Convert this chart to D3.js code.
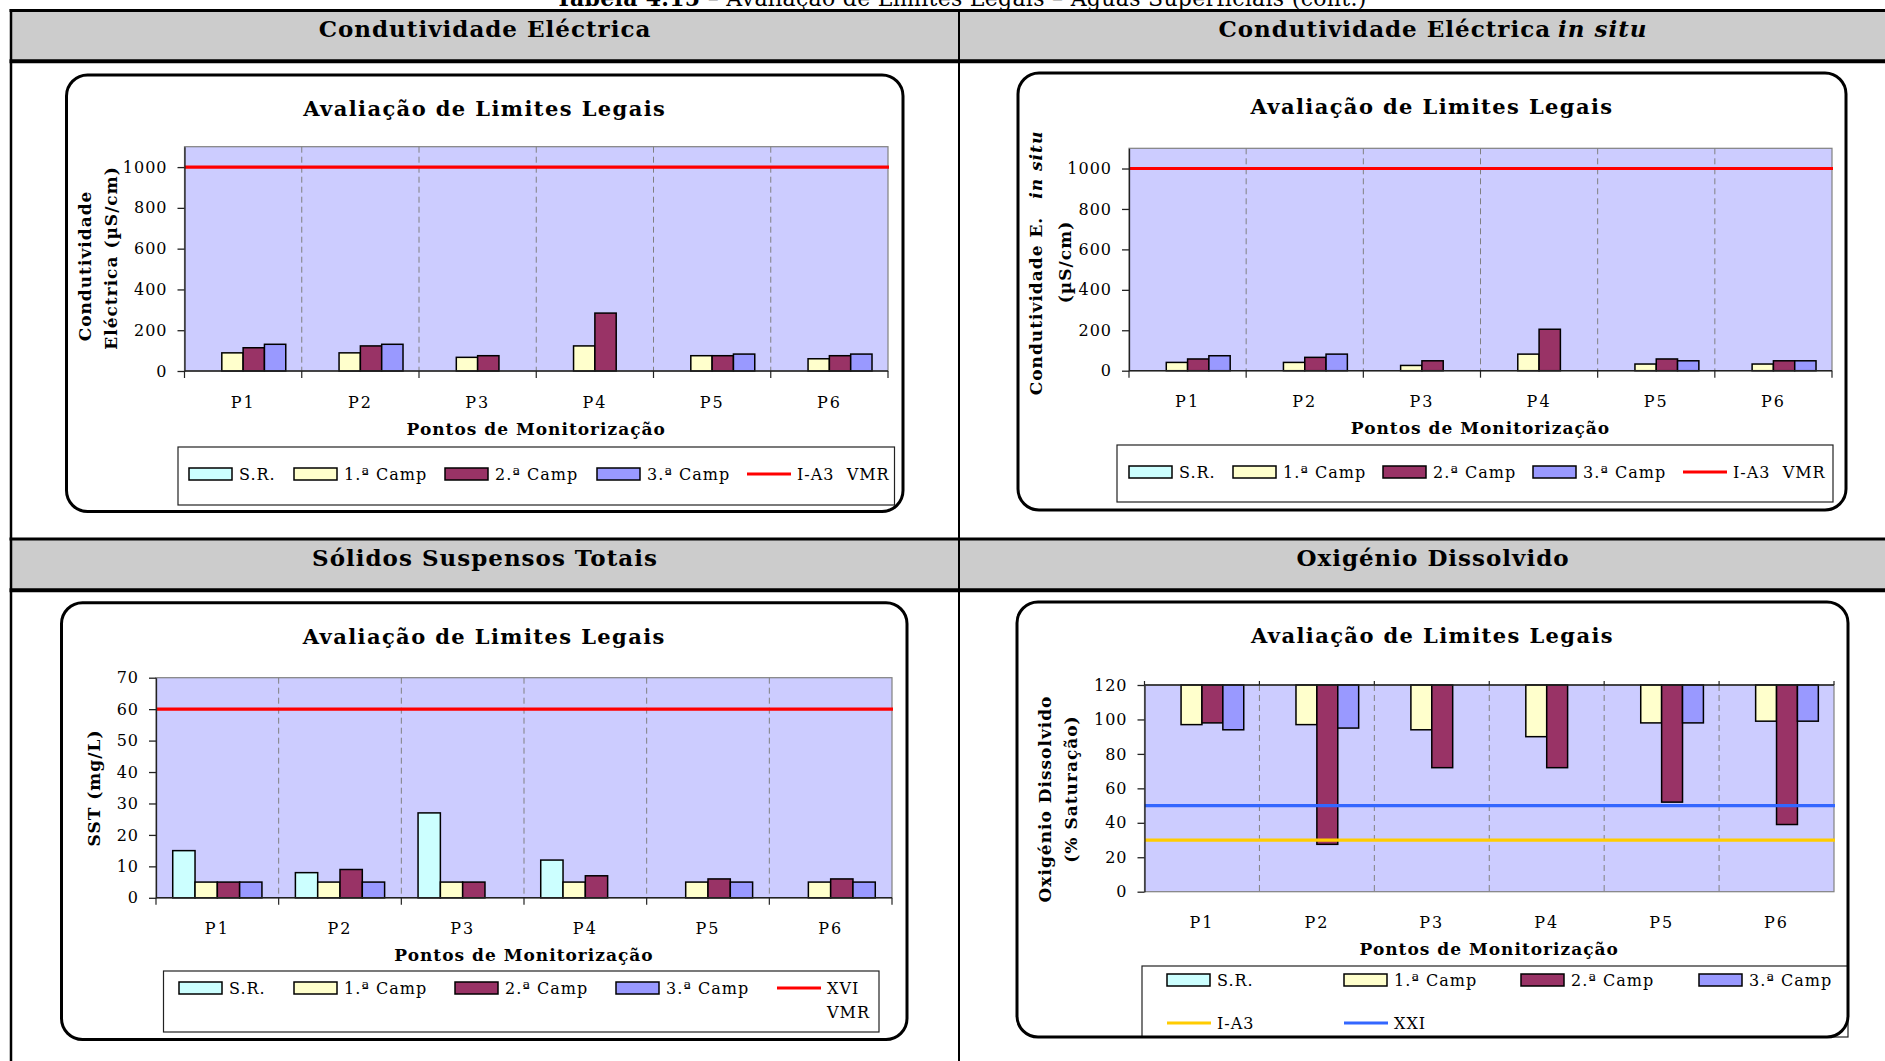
<!DOCTYPE html>
<html><head><meta charset="utf-8">
<script src="https://cdn.jsdelivr.net/npm/d3@7"></script>
<style>
body{margin:0;background:#fff;}
svg{display:block;}
text{font-family:"DejaVu Serif",serif;fill:#000;}
</style>
</head><body>
<svg id="c" width="1885" height="1061"></svg>
<script>
// ---------------- DATA ----------------
const categories = ["P1", "P2", "P3", "P4", "P5", "P6"];
const seriesNames = ["S.R.", "1.ª Camp", "2.ª Camp", "3.ª Camp"];

// Condutividade Eléctrica (µS/cm)
const ceSR = [null, null, null, null, null, null];
const ce1 = [89, 89, 67, 123, 75, 60];
const ce2 = [114, 123, 75, 284, 75, 75];
const ce3 = [131, 131, null, null, 83, 83];
const ceTicks = [0, 200, 400, 600, 800, 1000];
const ceMax = 1100;
const ceLimit = 1000;
const ceLimitName = "I-A3  VMR";

// Condutividade Eléctrica in situ (µS/cm)
const ceisSR = [null, null, null, null, null, null];
const ceis1 = [41, 41, 26, 82, 33, 33];
const ceis2 = [58, 66, 49, 205, 58, 49];
const ceis3 = [74, 82, null, null, 49, 49];
const ceisLimit = 1000;
const ceisLimitName = "I-A3  VMR";

// Sólidos Suspensos Totais (mg/L)
const sstSR = [15, 8, 27, 12, null, null];
const sst1 = [5, 5, 5, 5, 5, 5];
const sst2 = [5, 9, 5, 7, 6, 6];
const sst3 = [5, 5, null, null, 5, 5];
const sstTicks = [0, 10, 20, 30, 40, 50, 60, 70];
const sstMax = 70;
const sstLimit = 60;
const sstLimitName = "XVI\nVMR";

// Oxigénio Dissolvido (% Saturação)
const odSR = [null, null, null, null, null, null];
const od1 = [97, 97, 94, 90, 98, 99];
const od2 = [98, 27.5, 72, 72, 52, 39];
const od3 = [94, 95, null, null, 98, 99];
const odTicks = [0, 20, 40, 60, 80, 100, 120];
const odMax = 120;
const odLimitIA3 = 30;
const odLimitXXI = 50;
const odLimitNames = ["I-A3", "XXI"];

const headerTitles = ["Condutividade Eléctrica", "Condutividade Eléctrica", "Sólidos Suspensos Totais", "Oxigénio Dissolvido"];
const chartTitle = "Avaliação de Limites Legais";
const xTitle = "Pontos de Monitorização";
const tableCaptionBold = "Tabela 4.15";
const tableCaptionRest = " – Avaliação de Limites Legais – Águas Superficiais (cont.)";

// ---------------- STYLE ----------------
const seriesColors = ["#ccffff", "#ffffcc", "#993366", "#9999ff"];
const plotBg = "#ccccff";

const svg = d3.select("#c");

// ---------------- TABLE ----------------
svg.append("text").attr("x", 961).attr("y", 5.5).attr("text-anchor", "middle")
  .attr("font-size", 22).attr("letter-spacing", 0.3).style("white-space", "pre")
  .call(t => { t.append("tspan").attr("font-weight", "bold").text(tableCaptionBold); t.append("tspan").text(tableCaptionRest); });

svg.append("rect").attr("x", 11).attr("y", 12).attr("width", 1874).attr("height", 48).attr("fill", "#cccccc");
svg.append("rect").attr("x", 11).attr("y", 540).attr("width", 1874).attr("height", 49).attr("fill", "#cccccc");
const tline = (x1, y1, x2, y2, w) => svg.append("line").attr("x1", x1).attr("y1", y1).attr("x2", x2).attr("y2", y2).attr("stroke", "#000").attr("stroke-width", w);
tline(9.5, 10.5, 1885, 10.5, 3);
tline(11, 9, 11, 1061, 2.5);
tline(959, 9, 959, 1061, 2);
tline(9.5, 61.3, 1885, 61.3, 4);
tline(9.5, 539, 1885, 539, 3);
tline(9.5, 590.3, 1885, 590.3, 4);

function header(x, y, txt, italicTail) {
  const t = svg.append("text").attr("x", x).attr("y", y).attr("text-anchor", "middle")
    .attr("font-size", 23).attr("font-weight", "bold").attr("letter-spacing", 1);
  t.append("tspan").text(txt);
  if (italicTail) t.append("tspan").attr("font-style", "italic").attr("dx", 7).text(italicTail);
}
header(485, 37, headerTitles[0]);
header(1433, 37, headerTitles[1], "in situ");
header(485, 566, headerTitles[2]);
header(1433, 566, headerTitles[3]);

// ---------------- CHARTS ----------------
function drawChart(c) {
  const g = svg.append("g");
  const x0 = d3.scaleBand().domain(categories).range([c.plot.x0, c.plot.x1]).paddingInner(0).paddingOuter(0);
  const x1 = d3.scaleBand().domain(seriesNames).range([0, x0.bandwidth()]).paddingInner(0).paddingOuter(0.75);
  const y = d3.scaleLinear().domain([0, c.max]).range([c.plot.yb, c.plot.yt]);

  // title
  g.append("text").attr("x", (c.box.x0 + c.box.x1) / 2).attr("y", c.box.y0 + 41)
    .attr("text-anchor", "middle").attr("font-size", 21).attr("font-weight", "bold")
    .attr("letter-spacing", 1.4).text(chartTitle);

  // plot area
  g.append("rect").attr("x", c.plot.x0).attr("y", y(c.max))
    .attr("width", c.plot.x1 - c.plot.x0).attr("height", y(0) - y(c.max))
    .attr("fill", plotBg).attr("stroke", "#808080").attr("stroke-width", 1.2);

  // dashed category separators
  g.selectAll(".sep").data(categories.slice(1)).join("line")
    .attr("x1", d => x0(d)).attr("x2", d => x0(d))
    .attr("y1", y(c.max)).attr("y2", y(0))
    .attr("stroke", "#808080").attr("stroke-width", 1).attr("stroke-dasharray", "6,4");

  // bars
  const base = c.hang ? c.max : 0;
  const barData = [];
  c.series.forEach((vals, si) => vals.forEach((v, ci) => { if (v != null) barData.push({ si, ci, v }); }));
  g.selectAll(".bar").data(barData).join("rect")
    .attr("x", d => x0(categories[d.ci]) + x1(seriesNames[d.si]))
    .attr("width", x1.bandwidth())
    .attr("y", d => Math.min(y(d.v), y(base)))
    .attr("height", d => Math.abs(y(d.v) - y(base)))
    .attr("fill", d => seriesColors[d.si]).attr("stroke", "#000").attr("stroke-width", 1.5);

  // limit lines
  c.limits.forEach(l => {
    g.append("line").attr("x1", c.plot.x0).attr("x2", c.plot.x1 + 1)
      .attr("y1", y(l.value)).attr("y2", y(l.value))
      .attr("stroke", l.color).attr("stroke-width", 3.2);
  });

  // y axis
  const ya = g.append("g").attr("transform", `translate(${c.plot.x0},0)`)
    .call(d3.axisLeft(y).tickValues(c.ticks).tickSize(7).tickSizeOuter(0).tickPadding(10).tickFormat(d3.format("d")));
  ya.select(".domain").attr("stroke", "#222").attr("stroke-width", 1.3);
  ya.selectAll(".tick line").attr("stroke", "#222").attr("stroke-width", 1.3);
  ya.selectAll(".tick text").attr("font-family", '"DejaVu Serif", serif').attr("font-size", 16)
    .attr("letter-spacing", 1).attr("fill", "#000");

  // x axis line + boundary ticks
  const axY = c.hang ? y(c.max) : y(0);
  g.append("line").attr("x1", c.plot.x0).attr("x2", c.plot.x1).attr("y1", axY).attr("y2", axY)
    .attr("stroke", "#222").attr("stroke-width", 1.6);
  const bounds = categories.map(d => x0(d)).concat([x0(categories[categories.length - 1]) + x0.bandwidth()]);
  g.selectAll(".xt").data(bounds).join("line")
    .attr("x1", d => d).attr("x2", d => d)
    .attr("y1", axY).attr("y2", c.hang ? axY - 4 : axY + 7)
    .attr("stroke", "#222").attr("stroke-width", 1.2);

  // category labels
  const xa = g.append("g").attr("transform", `translate(0,${y(0) + 31})`)
    .call(d3.axisBottom(x0).tickSize(0).tickPadding(0));
  xa.select(".domain").remove();
  xa.selectAll(".tick text").attr("y", 0).attr("dy", "0.35em")
    .attr("font-family", '"DejaVu Serif", serif').attr("font-size", 16)
    .attr("letter-spacing", 2).attr("fill", "#000");

  // x title
  g.append("text").attr("x", (c.plot.x0 + c.plot.x1) / 2).attr("y", y(0) + 57.5)
    .attr("text-anchor", "middle").attr("dominant-baseline", "central")
    .attr("font-size", 17).attr("font-weight", "bold").attr("letter-spacing", 1).text(xTitle);

  // y title
  c.ytitle.forEach(l => {
    const t = g.append("text").attr("transform", `translate(${l.x},${l.y}) rotate(-90)`)
      .attr("text-anchor", "middle").attr("dominant-baseline", "central")
      .attr("font-size", 17).attr("font-weight", "bold").attr("letter-spacing", 1);
    t.append("tspan").text(l.text);
    if (l.italic) t.append("tspan").attr("dx", 18).attr("font-style", "italic").text(l.italic);
  });

  // legend
  const L = c.legend;
  g.append("rect").attr("x", L.x).attr("y", L.y).attr("width", L.w).attr("height", L.h)
    .attr("fill", "#fff").attr("stroke", "#222").attr("stroke-width", 1.2);
  L.items.forEach(it => {
    if (it.kind === "bar") {
      g.append("rect").attr("x", it.x).attr("y", it.y - 6).attr("width", 43).attr("height", 12)
        .attr("fill", seriesColors[it.s]).attr("stroke", "#000").attr("stroke-width", 1.5);
    } else {
      g.append("line").attr("x1", it.x).attr("x2", it.x + 44).attr("y1", it.y).attr("y2", it.y)
        .attr("stroke", it.color).attr("stroke-width", 3);
    }
    const lines = (it.kind === "bar" ? seriesNames[it.s] : it.label).split("\n");
    lines.forEach((ln, i) => {
      g.append("text").attr("x", it.x + 50).attr("y", it.y + i * 24).attr("dominant-baseline", "central")
        .attr("font-size", 16).attr("letter-spacing", 1).style("white-space", "pre").text(ln);
    });
  });

  // frame
  g.append("rect").attr("x", c.box.x0).attr("y", c.box.y0)
    .attr("width", c.box.x1 - c.box.x0).attr("height", c.box.y1 - c.box.y0)
    .attr("rx", 21).attr("ry", 21).attr("fill", "none").attr("stroke", "#000").attr("stroke-width", 3);
}

const barItems = (xs, yy) => xs.map((x, s) => ({ kind: "bar", s, x, y: yy }));

drawChart({
  box: { x0: 66.5, y0: 75, x1: 903, y1: 511.5 },
  plot: { x0: 184.5, x1: 888, yt: 146.7, yb: 371 },
  max: ceMax, ticks: ceTicks, hang: false,
  series: [ceSR, ce1, ce2, ce3],
  limits: [{ value: ceLimit, color: "#ff0000" }],
  ytitle: [{ x: 85, y: 266, text: "Condutividade" }, { x: 111, y: 258, text: "Eléctrica (µS/cm)" }],
  legend: { x: 178, y: 447, w: 716.5, h: 58,
    items: barItems([189, 294, 445, 597], 474).concat([{ kind: "line", x: 747, y: 474, color: "#ff0000", label: ceLimitName }]) }
});

drawChart({
  box: { x0: 1018, y0: 73, x1: 1846, y1: 510 },
  plot: { x0: 1129, x1: 1832, yt: 148.3, yb: 370.7 },
  max: ceMax, ticks: ceTicks, hang: false,
  series: [ceisSR, ceis1, ceis2, ceis3],
  limits: [{ value: ceisLimit, color: "#ff0000" }],
  ytitle: [{ x: 1036, y: 263, text: "Condutividade E.", italic: "in situ" }, { x: 1065, y: 262, text: "(µS/cm)" }],
  legend: { x: 1117, y: 445, w: 716, h: 57,
    items: barItems([1129, 1233, 1383, 1533], 472).concat([{ kind: "line", x: 1683, y: 472, color: "#ff0000", label: ceisLimitName }]) }
});

drawChart({
  box: { x0: 61.5, y0: 602.7, x1: 907, y1: 1039.5 },
  plot: { x0: 156, x1: 892, yt: 677.7, yb: 897.8 },
  max: sstMax, ticks: sstTicks, hang: false,
  series: [sstSR, sst1, sst2, sst3],
  limits: [{ value: sstLimit, color: "#ff0000" }],
  ytitle: [{ x: 93.5, y: 788, text: "SST (mg/L)" }],
  legend: { x: 163.5, y: 971, w: 715.5, h: 61,
    items: barItems([179, 294, 455, 616], 988).concat([{ kind: "line", x: 777, y: 988, color: "#ff0000", label: sstLimitName }]) }
});

drawChart({
  box: { x0: 1017, y0: 602, x1: 1848, y1: 1037 },
  plot: { x0: 1144.5, x1: 1834, yt: 685, yb: 891.7 },
  max: odMax, ticks: odTicks, hang: true,
  series: [odSR, od1, od2, od3],
  limits: [{ value: odLimitIA3, color: "#ffcc00" }, { value: odLimitXXI, color: "#3366ff" }],
  ytitle: [{ x: 1045, y: 799, text: "Oxigénio Dissolvido" }, { x: 1070.5, y: 789, text: "(% Saturação)" }],
  legend: { x: 1142, y: 966, w: 706, h: 71,
    items: barItems([1167, 1344, 1521, 1699], 980).concat([
      { kind: "line", x: 1167, y: 1023, color: "#ffcc00", label: odLimitNames[0] },
      { kind: "line", x: 1344, y: 1023, color: "#3366ff", label: odLimitNames[1] }]) }
});
</script>
</body></html>
